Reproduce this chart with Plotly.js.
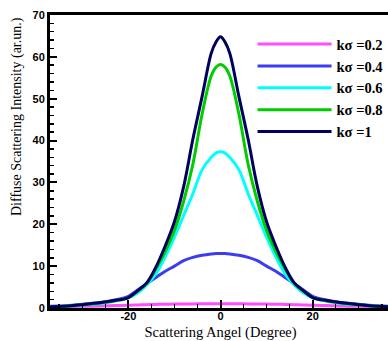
<!DOCTYPE html>
<html>
<head>
<meta charset="utf-8">
<script src="https://cdn.plot.ly/plotly-3.0.1.min.js"></script>
<style>
html, body { margin: 0; padding: 0; overflow: hidden; background: #fff; }
#chart { width: 395px; height: 341px; }
</style>
</head>
<body>
<div id="chart"></div>
<script>
// Scattering angle (degree)
const angles = [-37,-33,-30,-26,-23,-20,-18,-16,-14,-12,-10,-8,-6,-4,-2,-1,0,1,2,4,6,8,10,12,14,16,18,20,23,26,30,33,37];

const seriesNames = ['kσ =0.2', 'kσ =0.4', 'kσ =0.6', 'kσ =0.8', 'kσ =1'];

const ks02 = [0.3,0.35,0.4,0.5,0.58,0.65,0.72,0.8,0.85,0.9,0.93,0.95,0.98,1.0,1.0,1.0,1.0,1.0,1.0,1.0,0.98,0.95,0.93,0.9,0.85,0.8,0.72,0.65,0.58,0.5,0.4,0.35,0.3];
const ks04 = [0.4,0.6,0.9,1.3,1.9,2.8,4.3,5.8,7.3,8.8,10.0,11.3,12.1,12.6,12.9,13.0,13.0,13.0,12.9,12.6,12.1,11.3,10.0,8.8,7.3,5.8,4.3,2.8,1.9,1.3,0.9,0.6,0.4];
const ks06 = [0.3,0.45,0.7,1.1,1.6,2.5,3.6,5.5,8.2,12.2,16.9,22.1,27.3,33.0,36.0,37.0,37.3,37.0,36.0,33.0,27.3,22.1,16.9,12.2,8.2,5.5,3.6,2.5,1.6,1.1,0.7,0.45,0.3];
const ks08 = [0.3,0.5,0.75,1.2,1.7,2.5,4.0,5.9,9.4,13.5,18.5,25.5,34.3,46.3,55.5,57.5,58.2,57.5,55.5,46.3,34.3,25.5,18.5,13.5,9.4,5.9,4.0,2.5,1.7,1.2,0.75,0.5,0.3];
const ks10 = [0.3,0.5,0.8,1.3,1.8,2.5,4.1,6.0,9.8,14.8,20.6,29.0,40.3,50.5,60.9,63.5,64.8,63.5,60.9,50.5,40.3,29.0,20.6,14.8,9.8,6.0,4.1,2.5,1.8,1.3,0.8,0.5,0.3];

const seriesValues = [ks02, ks04, ks06, ks08, ks10];
const seriesColors = ['#ff4dff', '#3c3cf0', '#00ffff', '#00cc00', '#00005e'];

const traces = seriesValues.map((vals, i) => ({
  type: 'scatter',
  mode: 'lines',
  x: angles,
  y: vals,
  name: seriesNames[i],
  line: { color: seriesColors[i], width: 3, shape: 'spline', smoothing: 1 }
}));

const tickFont = { family: 'Liberation Sans, Arial, sans-serif', size: 11, color: '#000', weight: 'bold' };

const layout = {
  width: 395,
  height: 341,
  margin: { l: 50, r: 4, t: 15, b: 33 },
  paper_bgcolor: '#fff',
  plot_bgcolor: '#fff',
  showlegend: true,
  legend: {
    x: 0.594, y: 0.955, xanchor: 'left', yanchor: 'top',
    bgcolor: 'rgba(0,0,0,0)', borderwidth: 0,
    itemwidth: 74,
    font: { family: 'Liberation Serif, Times New Roman, serif', size: 14.5, color: '#000', weight: 'bold' }
  },
  xaxis: {
    range: [-37, 37],
    tickvals: [-20, 0, 20],
    ticktext: ['-20', '0', '20'],
    ticks: 'inside', ticklen: 8, tickwidth: 2, tickcolor: '#000',
    ticklabelstandoff: -4,
    minor: { dtick: 5, tick0: 0, ticks: 'inside', ticklen: 4, tickwidth: 1.5, tickcolor: '#000' },
    showline: true, linewidth: 3, linecolor: '#000', mirror: true,
    showgrid: false, zeroline: false,
    tickfont: tickFont,
    title: { text: 'Scattering Angel (Degree)', standoff: 6,
      font: { family: 'Liberation Serif, Times New Roman, serif', size: 14.5, color: '#000' } }
  },
  yaxis: {
    range: [0, 70],
    dtick: 10,
    ticks: 'inside', ticklen: 7, tickwidth: 2, tickcolor: '#000',
    minor: { dtick: 2, ticks: 'inside', ticklen: 4, tickwidth: 1.5, tickcolor: '#000' },
    showline: true, linewidth: 3, linecolor: '#000', mirror: true,
    showgrid: false, zeroline: false,
    tickfont: tickFont
  },
  annotations: [{
    text: 'Diffuse Scattering Intensity (ar.un.)',
    xref: 'paper', yref: 'paper',
    x: -0.097, y: 0.655,
    xanchor: 'center', yanchor: 'middle',
    textangle: -90, showarrow: false,
    font: { family: 'Liberation Serif, Times New Roman, serif', size: 14, color: '#000' }
  }]
};

Plotly.newPlot('chart', traces, layout, { displayModeBar: false, staticPlot: true });
</script>
</body>
</html>
